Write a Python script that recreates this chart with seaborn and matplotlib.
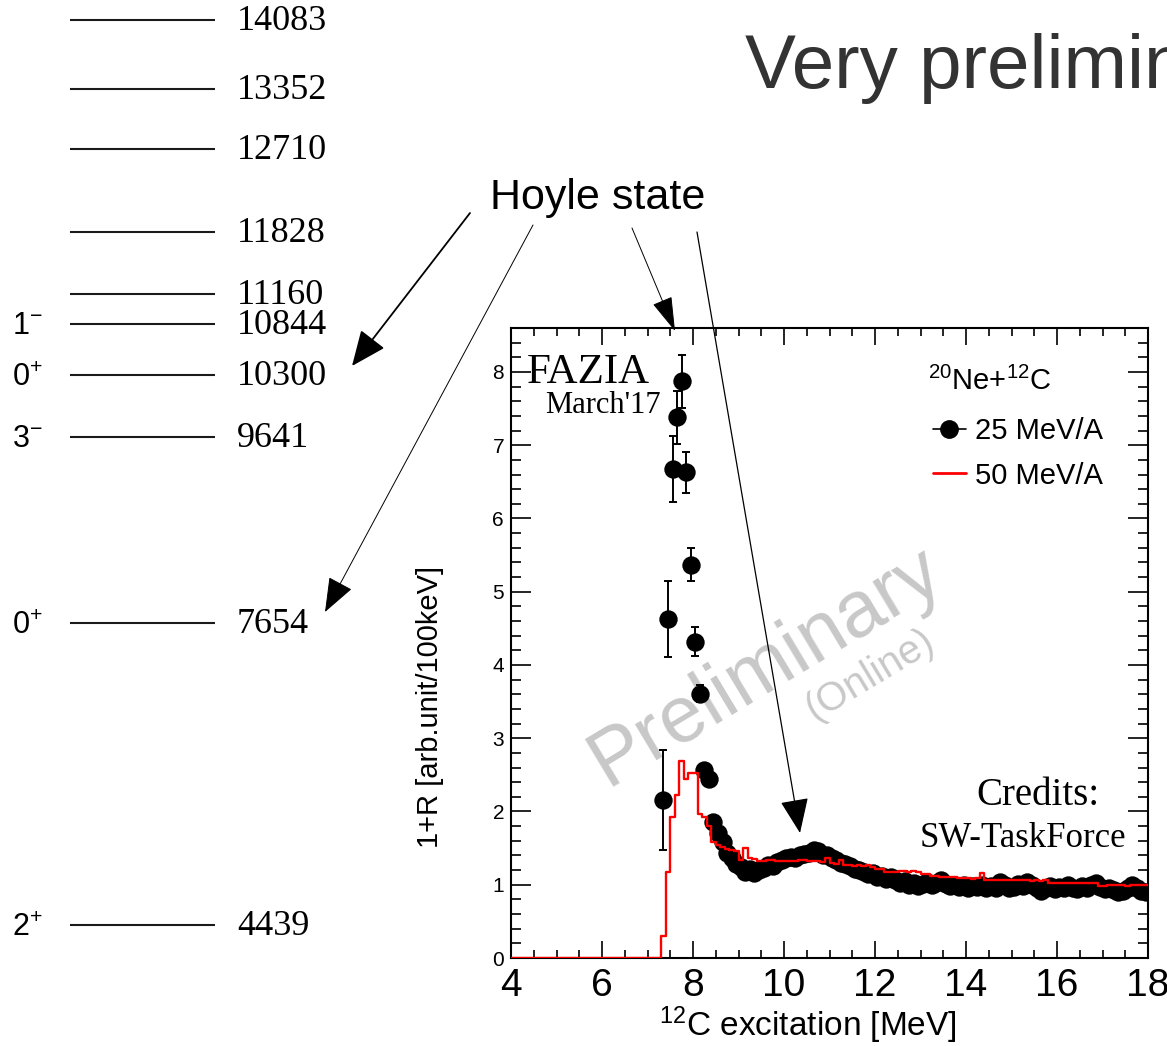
import numpy as np
import pandas as pd
import matplotlib
matplotlib.use("Agg")
import matplotlib.pyplot as plt
import matplotlib.transforms as mtransforms
from matplotlib.lines import Line2D
from matplotlib.ticker import MultipleLocator
import seaborn as sns

# ------------------------------------------------------------------ data
level_energies = [14083, 13352, 12710, 11828, 11160, 10844, 10300, 9641, 7654, 4439]
level_labels = ["14083", "13352", "12710", "11828", "11160", "10844", "10300", "9641", "7654", "4439"]
spin_energies = [10844, 10300, 9641, 7654, 4439]
spin_labels = [r"1$\mathregular{^{-}}$", r"0$\mathregular{^{+}}$", r"3$\mathregular{^{-}}$",
               r"0$\mathregular{^{+}}$", r"2$\mathregular{^{+}}$"]

# 25 MeV/A points (bin centres every 100 keV from 7.35 MeV)
y25 = [2.16, 4.63, 6.68, 7.38, 7.87, 6.63, 5.37, 4.32, 3.61, 2.57, 2.45,
       1.86, 1.70, 1.58, 1.44, 1.36, 1.28, 1.24, 1.18, 1.22, 1.16,
       1.20, 1.23, 1.27, 1.26, 1.31, 1.34, 1.36, 1.38, 1.37, 1.40,
       1.42, 1.44, 1.48, 1.46, 1.41, 1.40, 1.36, 1.34, 1.30, 1.28,
       1.25, 1.22, 1.20, 1.18, 1.15, 1.16, 1.11, 1.12, 1.08, 1.10,
       1.06, 1.03, 1.05, 1.00, 1.02, 0.98, 1.01, 1.04, 0.99, 1.02,
       1.06, 1.01, 0.98, 1.00, 0.97, 0.99, 0.96, 0.98, 0.97, 1.00,
       0.95, 0.98, 0.96, 1.04, 0.99, 0.95, 0.97, 1.01, 0.98, 1.04,
       1.00, 0.96, 0.92, 0.95, 0.98, 0.94, 0.97, 0.95, 0.99, 0.96,
       0.94, 0.98, 0.95, 1.00, 1.03, 0.97, 0.94, 0.95, 0.93, 0.90,
       0.92, 0.95, 0.99, 0.96, 0.92, 0.90]
x25 = np.round(7.35 + 0.1 * np.arange(len(y25)), 2)
# visible error bars (first points of the peak)
err25 = [0.68, 0.52, 0.45, 0.36, 0.36, 0.28, 0.23, 0.20, 0.12, 0.08, 0.06]

# 50 MeV/A histogram, 100 keV bins from 4.0 to 18.0 MeV
red_vals = [0.0] * 33 + [
    0.30, 1.18, 1.92, 2.22, 2.69, 2.45, 2.53, 2.53, 1.97, 1.93,
    1.80, 1.58, 1.54, 1.51, 1.49, 1.47, 1.46, 1.34, 1.50, 1.36,
    1.35, 1.32, 1.32, 1.34, 1.34, 1.33, 1.33, 1.33, 1.32, 1.33,
    1.34, 1.34, 1.33, 1.32, 1.32, 1.31, 1.36, 1.30, 1.29, 1.34,
    1.27, 1.27, 1.26, 1.27, 1.25, 1.27, 1.24, 1.22, 1.22, 1.18,
    1.18, 1.17, 1.19, 1.19, 1.18, 1.19, 1.17, 1.14, 1.14, 1.12,
    1.12, 1.11, 1.10, 1.10, 1.11, 1.09, 1.09, 1.09, 1.08, 1.09,
    1.16, 1.07, 1.07, 1.06, 1.07, 1.07, 1.06, 1.07, 1.07, 1.06,
    1.06, 1.05, 1.06, 1.05, 1.06, 1.02, 1.03, 1.02, 1.02, 1.03,
    1.02, 1.02, 1.03, 1.02, 1.03, 1.02, 0.98, 0.98, 0.99, 0.99,
    1.00, 0.99, 0.98, 0.99, 0.99, 1.00, 0.99]
red_edges = [round(4.0 + 0.1 * i, 2) for i in range(len(red_vals) + 1)]
red_centers = [round(4.05 + 0.1 * i, 2) for i in range(len(red_vals))]
red_df = pd.DataFrame({"E": red_centers, "w": red_vals})

x_ticks_major = 2
y_ticks_major = 1

# ------------------------------------------------------------------ style
sns.set_theme(style="white")
plt.rcParams["font.family"] = ["Liberation Sans", "DejaVu Sans"]
plt.rcParams["mathtext.fontset"] = "custom"
plt.rcParams["mathtext.rm"] = "Liberation Sans"
plt.rcParams["mathtext.it"] = "Liberation Sans:italic"
plt.rcParams["mathtext.bf"] = "Liberation Sans:bold"
for k in ["text.color", "axes.labelcolor", "xtick.color", "ytick.color",
          "xtick.labelcolor", "ytick.labelcolor"]:
    plt.rcParams[k] = "black"

W, H = 1167, 1046
fig = plt.figure(figsize=(W / 100, H / 100), dpi=100)
fig.patch.set_facecolor("white")

# ------------------------------------------------------------ level scheme
ax_lv = fig.add_axes([0, 0, 1, 1], zorder=0)
ax_lv.set_xlim(0, W)
ax_lv.set_ylim(3150.0, 14296.7)
ax_lv.axis("off")
ax_lv.hlines(level_energies, 70, 215, color="#1a1a1a", lw=1.5)
lab_tr = mtransforms.offset_copy(ax_lv.transData, fig=fig, y=-1.5, units="dots")
for e, lab in zip(level_energies, level_labels):
    ax_lv.text(237, e, lab, family="Liberation Serif", fontsize=26, ha="left",
               va="center", transform=lab_tr, color="black")
spin_tr = mtransforms.offset_copy(ax_lv.transData, fig=fig, y=-2.5, units="dots")
for e, lab in zip(spin_energies, spin_labels):
    ax_lv.text(12, e, lab, fontsize=22, ha="left", va="center",
               transform=spin_tr, color="black")

# ------------------------------------------------------------ main axes
ax = fig.add_axes([511 / W, 88 / H, 637 / W, 630 / H], zorder=5)
ax.set_facecolor("white")

ax.text(0.400, 0.462, "Preliminary", transform=ax.transAxes, fontsize=57,
        color="#c8c8c8", rotation=31, rotation_mode="anchor",
        ha="center", va="center", zorder=1)
ax.text(0.5636, 0.449, "(Online)", transform=ax.transAxes, fontsize=29,
        color="#c8c8c8", rotation=31, rotation_mode="anchor",
        ha="center", va="center", zorder=1)

n_err = len(err25)
ax.errorbar(x25[:n_err], y25[:n_err], yerr=err25, fmt="none", ecolor="black",
            elinewidth=1.4, capsize=3, capthick=1.4, zorder=3)
sns.scatterplot(x=x25, y=y25, ax=ax, color="black", s=175, linewidth=0,
                zorder=4, legend=False)
sns.histplot(data=red_df, x="E", weights="w", bins=red_edges, element="step",
             fill=False, color="red", linewidth=1.7, ax=ax, zorder=6)

ax.set_xlim(4, 18)
ax.set_ylim(0, 8.6)
ax.xaxis.set_major_locator(MultipleLocator(x_ticks_major))
ax.xaxis.set_minor_locator(MultipleLocator(0.5))
ax.yaxis.set_major_locator(MultipleLocator(y_ticks_major))
ax.yaxis.set_minor_locator(MultipleLocator(0.2))
ax.tick_params(which="both", direction="in", top=True, right=True,
               bottom=True, left=True, color="black", labelcolor="black", width=1.2)
ax.tick_params(axis="x", which="major", length=12, labelsize=28, pad=7)
ax.tick_params(axis="x", which="minor", length=6)
ax.tick_params(axis="y", which="major", length=14.5, labelsize=15, pad=5)
ax.tick_params(axis="y", which="minor", length=7.5)
for sp in ax.spines.values():
    sp.set_color("black")
    sp.set_linewidth(1.5)

ax.set_ylabel("1+R [arb.unit/100keV]", fontsize=21, color="black")
ax.yaxis.set_label_coords(-0.127, 0.398)
ax.yaxis.label.set_va("center")
ax.set_xlabel(r"$\mathregular{^{12}}$C excitation [MeV]", fontsize=24, color="black")
ax.xaxis.set_label_coords(0.466, -0.106)
ax.xaxis.label.set_va("center")

ax.text(0.0251, 0.9127, "FAZIA", transform=ax.transAxes, family="Liberation Serif",
        fontsize=31, va="baseline", ha="left", zorder=7)
ax.text(0.0534, 0.865, "March'17", transform=ax.transAxes, family="Liberation Serif",
        fontsize=22, va="baseline", ha="left", zorder=7)
ax.text(0.9246, 0.2429, "Credits:", transform=ax.transAxes, family="Liberation Serif",
        fontsize=28, va="baseline", ha="right", zorder=7)
ax.text(0.9655, 0.176, "SW-TaskForce", transform=ax.transAxes, family="Liberation Serif",
        fontsize=25, va="baseline", ha="right", zorder=7)
ax.text(0.6546, 0.9016, r"$\mathregular{^{20}}$Ne+$\mathregular{^{12}}$C",
        transform=ax.transAxes, fontsize=21, va="baseline", ha="left", zorder=7)

h25 = Line2D([], [], color="black", marker="o", markersize=12.5, lw=1.2)
h50 = Line2D([], [], color="red", lw=2.0)
ax.legend([h25, h50], ["25 MeV/A", "50 MeV/A"], loc="upper left",
          bbox_to_anchor=(0.662, 0.858), frameon=False, fontsize=21,
          handlelength=1.15, handletextpad=0.3, labelspacing=0.55,
          borderpad=0, borderaxespad=0)

# ------------------------------------------------------------ overlay (title, arrows)
ov = fig.add_axes([0, 0, 1, 1], zorder=10)
ov.set_xlim(0, W)
ov.set_ylim(H, 0)
ov.axis("off")
ov.text(745, 88, "Very preliminary", fontsize=55, color="#333333",
        ha="left", va="baseline")
ov.text(490, 209, "Hoyle state", fontsize=31, color="black",
        ha="left", va="baseline")

arrows = [
    ((470, 213), (352, 366), 1.3, 0.47),
    ((533, 225), (325, 612), 0.7, 0.42),
    ((632, 228), (675, 331), 0.7, 0.33),
    ((697, 232), (800, 833), 0.9, 0.45),
]
for tail, head, lw, hw in arrows:
    ov.annotate("", xy=head, xytext=tail, xycoords="data", textcoords="data",
                annotation_clip=False,
                arrowprops=dict(arrowstyle=f"-|>,head_length=1.1,head_width={hw}",
                                color="black", lw=lw, mutation_scale=20,
                                shrinkA=0, shrinkB=0))

fig.savefig("out.png", dpi=100)
